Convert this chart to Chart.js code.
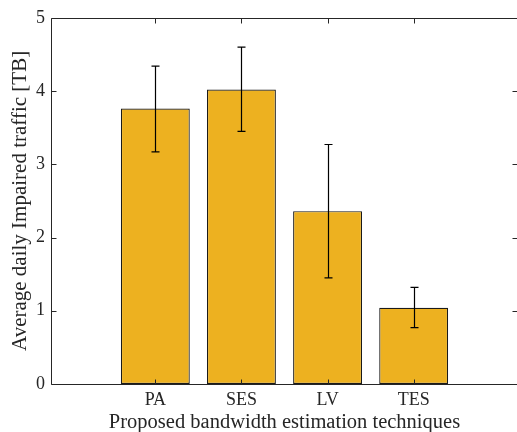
<!DOCTYPE html>
<html>
<head>
<meta charset="utf-8">
<script src="https://cdn.jsdelivr.net/npm/chart.js@4.4.0/dist/chart.umd.min.js"></script>
<style>
  html, body { margin: 0; padding: 0; background: #fff; }
  #wrap { width: 517px; height: 432px; }
</style>
</head>
<body>
<div id="wrap"><canvas id="barChart"></canvas></div>
<script>
const techniques = ["PA", "SES", "LV", "TES"];
const positions = [1, 2, 3, 4];
const meanTraffic = [3.76, 4.02, 2.36, 1.04];
const errLow = [3.17, 3.45, 1.45, 0.77];
const errHigh = [4.34, 4.60, 3.27, 1.32];
const yTicks = [0, 1, 2, 3, 4, 5];

const FONT = "'Liberation Serif', serif";

// error bars + matlab style box with inward ticks
const matlabBox = {
  id: "matlabBox",
  afterDatasetsDraw(chart) {
    const ctx = chart.ctx;
    const x = chart.scales.x;
    const y = chart.scales.y;
    ctx.save();
    ctx.strokeStyle = "#000";
    ctx.lineWidth = 1.2;
    positions.forEach((p, i) => {
      const px = Math.round(x.getPixelForValue(p)) + 0.5;
      const lo = y.getPixelForValue(errLow[i]);
      const hi = y.getPixelForValue(errHigh[i]);
      ctx.beginPath();
      ctx.moveTo(px, lo);
      ctx.lineTo(px, hi);
      ctx.moveTo(px - 4, hi);
      ctx.lineTo(px + 4, hi);
      ctx.moveTo(px - 4, lo);
      ctx.lineTo(px + 4, lo);
      ctx.stroke();
    });
    ctx.restore();
  },
  afterDraw(chart) {
    const ctx = chart.ctx;
    const a = chart.chartArea;
    const x = chart.scales.x;
    const y = chart.scales.y;
    const L = Math.round(a.left) - 0.5, R = Math.round(a.right) + 0.5;
    const T = Math.round(a.top) + 0.5, B = Math.round(a.bottom) + 0.5;
    ctx.save();
    ctx.strokeStyle = "#262626";
    ctx.lineWidth = 1;
    ctx.beginPath();
    ctx.moveTo(L, T); ctx.lineTo(R, T); ctx.lineTo(R, B); ctx.lineTo(L, B); ctx.closePath();
    ctx.stroke();
    ctx.beginPath();
    yTicks.forEach((v) => {
      const py = Math.round(y.getPixelForValue(v)) + 0.5;
      ctx.moveTo(L, py); ctx.lineTo(L + 5, py);
      ctx.moveTo(R, py); ctx.lineTo(R - 5, py);
    });
    positions.forEach((p) => {
      const px = Math.round(x.getPixelForValue(p)) + 0.5;
      ctx.moveTo(px, B); ctx.lineTo(px, B - 5);
      ctx.moveTo(px, T); ctx.lineTo(px, T + 5);
    });
    ctx.stroke();
    ctx.restore();
  }
};

new Chart(document.getElementById("barChart").getContext("2d"), {
  type: "bar",
  data: {
    datasets: [
      {
        label: "Average daily impaired traffic",
        data: positions.map((p, i) => ({ x: p, y: meanTraffic[i] })),
        backgroundColor: "#EDB120",
        borderColor: "#1a1a1a",
        borderWidth: 1.2,
        borderSkipped: false,
        categoryPercentage: 1,
        barPercentage: 0.8,
      },
    ],
  },
  options: {
    responsive: true,
    maintainAspectRatio: false,
    animation: false,
    devicePixelRatio: 1,
    layout: { padding: { left: 0, top: 17, right: 0, bottom: 0 } },
    plugins: {
      legend: { display: false },
      tooltip: { enabled: false },
    },
    scales: {
      x: {
        type: "linear",
        min: -0.2,
        max: 5.2,
        offset: false,
        grid: { display: false, drawTicks: false, offset: false },
        border: { display: false },
        afterBuildTicks: (s) => { s.ticks = positions.map((v) => ({ value: v })); },
        afterFit: (s) => { s.height = 48; },
        ticks: {
          color: "#262626",
          font: { family: FONT, size: 18 },
          padding: 5,
          maxRotation: 0,
          autoSkip: false,
          callback: (v) => techniques[positions.indexOf(v)] || "",
        },
        title: {
          display: true,
          text: "Proposed bandwidth estimation techniques",
          color: "#262626",
          font: { family: FONT, size: 20.5, lineHeight: 0.92 },
          padding: { top: 0, bottom: 0 },
        },
      },
      y: {
        min: 0,
        max: 5,
        grid: { display: false, drawTicks: false },
        border: { display: false },
        afterBuildTicks: (s) => { s.ticks = yTicks.map((v) => ({ value: v })); },
        afterFit: (s) => { s.width = 52; },
        ticks: {
          color: "#262626",
          font: { family: FONT, size: 18 },
          padding: 7,
        },
        title: {
          display: true,
          text: "Average daily Impaired traffic [TB]",
          color: "#262626",
          font: { family: FONT, size: 21 },
          padding: { top: 8, bottom: 0 },
        },
      },
    },
  },
  plugins: [matlabBox],
});
</script>
</body>
</html>
